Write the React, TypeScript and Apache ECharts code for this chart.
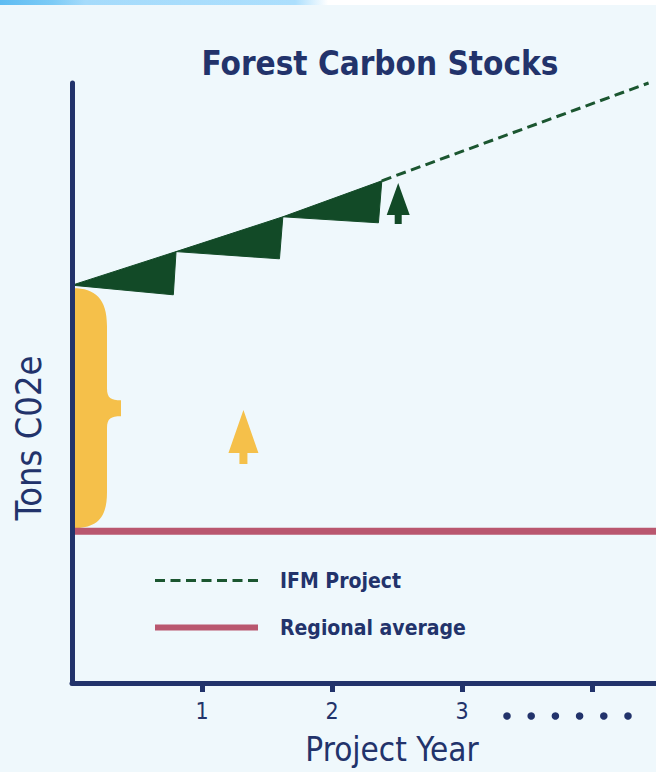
import React, { useEffect, useRef } from "react";
import * as echarts from "echarts";

// ---- data ----
const xTickValues = [1, 2, 3, 4];
const xLabelValues = [1, 2, 3];
const xTickLabels = ["1", "2", "3"];

// sawtooth of carbon stock growth/harvest (project years, tons index)
const toothStartX = [0, 0.8, 1.621];
const toothStartY = [66.3, 71.9, 77.7];
const toothEndX = [0.8, 1.621, 2.382];
const toothEndY = [71.9, 77.7, 83.7];
const toothBottomX = [0.779, 1.595, 2.356];
const toothBottomY = [64.7, 70.7, 76.7];

// IFM project projection (dashed)
const ifmX = [2.382, 4.433];
const ifmY = [83.7, 100.0];

// regional average baseline
const regionalX = [0, 4.49];
const regionalY = [25.3, 25.3];

// brace between baseline and project start
const braceX = [0];
const braceTopY = [65.8];
const braceBottomY = [25.8];

// trees
const treeX = [1.318, 2.508];
const treeY = [41.0, 79.9];

const NAVY = "#22336b";
const GREEN = "#124a27";
const DASH_GREEN = "#1b5630";
const YELLOW = "#f5c04a";
const ROSE = "#b9576f";
const FONT = "'DejaVu Sans Condensed', 'DejaVu Sans', sans-serif";

const treeSymbols = [
  "path://M15 0 L30 43 L0 43 Z M11 43 H19 V54 H11 Z",
  "path://M11.5 0 L23 32 L0 32 Z M8 32 H15 V41 H8 Z",
];
const treeSizes = [
  [30, 54],
  [23, 41],
];
const treeColors = [YELLOW, GREEN];

export default function App() {
  const ref = useRef<HTMLDivElement>(null);

  useEffect(() => {
    if (!ref.current) return;
    const chart = echarts.init(ref.current, undefined, { renderer: "svg" });

    const dots = [0, 1, 2, 3, 4, 5].map((k) => ({
      type: "circle",
      shape: { cx: 507 + 24.2 * k, cy: 716, r: 3.8 },
      style: { fill: NAVY },
      silent: true,
    }));

    const option: any = {
      animation: false,
      backgroundColor: "#eff8fc",
      title: {
        text: "Forest Carbon Stocks",
        left: 375,
        top: 42,
        textAlign: "center",
        textStyle: {
          fontFamily: FONT,
          fontWeight: "bold",
          fontSize: 33,
          color: NAVY,
        },
      },
      legend: {
        orient: "vertical",
        left: 152,
        top: 570,
        padding: 0,
        itemGap: 26,
        itemWidth: 103,
        itemHeight: 24,
        selectedMode: false,
        data: [
          {
            name: "IFM Project",
            lineStyle: { width: 3, type: [10, 5.5] },
            itemStyle: { opacity: 0 },
          },
          {
            name: "Regional average",
            lineStyle: { width: 6 },
            itemStyle: { opacity: 0 },
          },
        ],
        textStyle: {
          fontFamily: FONT,
          fontWeight: "bold",
          fontSize: 21,
          color: NAVY,
          padding: [0, 0, 0, 17],
        },
      },
      grid: {
        left: 72,
        right: 0,
        top: 83,
        bottom: 89,
        containLabel: false,
        outerBoundsMode: "none",
      },
      xAxis: {
        type: "value",
        min: 0,
        max: 4.49,
        interval: 1,
        z: 5,
        name: "Project Year",
        nameLocation: "middle",
        nameGap: 50,
        nameTextStyle: {
          fontFamily: FONT,
          fontSize: 33,
          lineHeight: 33,
          color: NAVY,
          padding: [0, 0, 0, 56],
        },
        axisLine: { show: true, lineStyle: { color: NAVY, width: 5 } },
        axisTick: {
          show: true,
          length: 9,
          customValues: xTickValues,
          lineStyle: { color: NAVY, width: 5 },
        },
        axisLabel: {
          show: true,
          customValues: xLabelValues,
          margin: 16,
          fontFamily: FONT,
          fontSize: 23,
          color: NAVY,
          formatter: (v: number) => {
            const i = xLabelValues.indexOf(Math.round(v));
            return i >= 0 ? xTickLabels[i] : "";
          },
        },
        splitLine: { show: false },
      },
      yAxis: {
        type: "value",
        min: 0,
        max: 100,
        z: 5,
        axisLine: { show: true, lineStyle: { color: NAVY, width: 5 } },
        axisTick: { show: false },
        axisLabel: { show: false },
        splitLine: { show: false },
      },
      graphic: [
        {
          type: "rect",
          shape: { x: 0, y: 0, width: 656, height: 5 },
          style: {
            fill: {
              type: "linear",
              x: 0,
              y: 0,
              x2: 1,
              y2: 0,
              colorStops: [
                { offset: 0, color: "#5ebcf2" },
                { offset: 0.08, color: "#7ccbf6" },
                { offset: 0.13, color: "#a5dbfb" },
                { offset: 0.45, color: "#acdffd" },
                { offset: 0.5, color: "#ffffff" },
                { offset: 1, color: "#ffffff" },
              ],
            },
          },
          silent: true,
        },
        {
          type: "text",
          x: 28,
          y: 438,
          rotation: Math.PI / 2,
          style: {
            text: "Tons C02e",
            fontFamily: FONT,
            fontSize: 36,
            fill: NAVY,
            align: "center",
            verticalAlign: "middle",
          },
          silent: true,
        },
        ...dots,
      ],
      series: [
        {
          type: "custom",
          name: "Brace",
          coordinateSystem: "cartesian2d",
          silent: true,
          z: 2,
          data: braceX.map((x, i) => [x, braceTopY[i], braceBottomY[i]]),
          encode: { x: 0, y: [1, 2] },
          renderItem: (params: any, api: any) => {
            const top = api.coord([api.value(0), api.value(1)]);
            const bot = api.coord([api.value(0), api.value(2)]);
            const x0 = top[0] + 1;
            const y0 = top[1];
            const H = bot[1] - y0;
            const m = H / 2;
            const P = (dx: number, dy: number) => `${x0 + dx} ${y0 + dy}`;
            const d =
              `M${P(0, 0)} C${P(22, 0)} ${P(34, 10)} ${P(34, 38)} ` +
              `L${P(34, m - 20)} C${P(34, m - 10)} ${P(38, m - 8)} ${P(48, m - 8)} ` +
              `L${P(48, m + 8)} C${P(38, m + 8)} ${P(34, m + 10)} ${P(34, m + 20)} ` +
              `L${P(34, H - 36)} C${P(34, H - 10)} ${P(24, H)} ${P(0, H)} Z`;
            return {
              type: "path",
              shape: { pathData: d },
              style: { fill: YELLOW },
            };
          },
        },
        {
          type: "custom",
          name: "Carbon stock",
          coordinateSystem: "cartesian2d",
          silent: true,
          z: 3,
          data: toothStartX.map((x, i) => [
            x,
            toothStartY[i],
            toothEndX[i],
            toothEndY[i],
            toothBottomX[i],
            toothBottomY[i],
          ]),
          encode: { x: [0, 2, 4], y: [1, 3, 5] },
          renderItem: (params: any, api: any) => {
            const p0 = api.coord([api.value(0), api.value(1)]);
            const p1 = api.coord([api.value(2), api.value(3)]);
            const p2 = api.coord([api.value(4), api.value(5)]);
            return {
              type: "polygon",
              shape: { points: [p0, p1, p2] },
              style: { fill: GREEN, stroke: GREEN, lineWidth: 1 },
            };
          },
        },
        {
          type: "line",
          name: "IFM Project",
          data: ifmX.map((x, i) => [x, ifmY[i]]),
          symbol: "none",
          clip: false,
          z: 3,
          lineStyle: { color: DASH_GREEN, width: 3, type: [10, 5.5] },
          itemStyle: { color: DASH_GREEN },
        },
        {
          type: "line",
          name: "Regional average",
          data: regionalX.map((x, i) => [x, regionalY[i]]),
          symbol: "none",
          clip: false,
          z: 3,
          lineStyle: { color: ROSE, width: 7 },
          itemStyle: { color: ROSE },
        },
        {
          type: "scatter",
          name: "Trees",
          silent: true,
          z: 4,
          symbolKeepAspect: false,
          data: treeX.map((x, i) => ({
            value: [x, treeY[i]],
            symbol: treeSymbols[i],
            symbolSize: treeSizes[i],
            itemStyle: { color: treeColors[i], opacity: 1 },
          })),
        },
      ],
    };

    chart.setOption(option);
    return () => chart.dispose();
  }, []);

  return (
    <div
      ref={ref}
      style={{ position: "absolute", left: 0, top: 0, width: 656, height: 772 }}
    />
  );
}
